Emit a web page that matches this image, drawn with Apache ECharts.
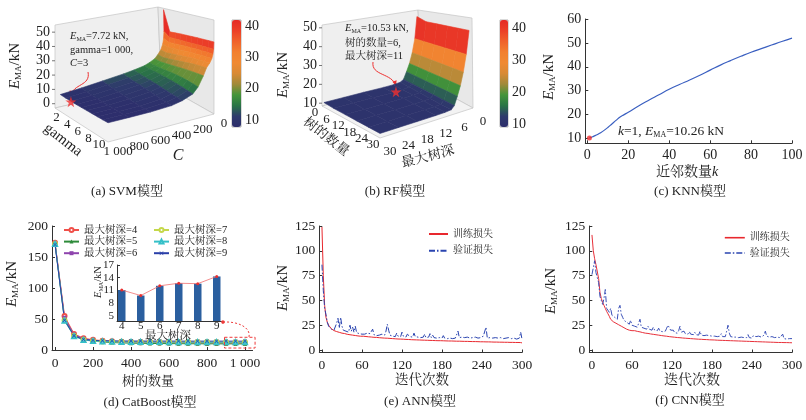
<!DOCTYPE html>
<html><head><meta charset="utf-8">
<script src="https://cdn.jsdelivr.net/npm/echarts@6/dist/echarts.min.js"></script>
<style>html,body{margin:0;padding:0;background:#fff}#c{width:806px;height:420px}</style>
</head><body><div id="c"></div>
<script>
// ================= DATA =================
// (a) SVM surface: rows = gamma, columns = C
const svmGamma = [1,2,3,4,5,6,7,8,9,10];
const svmC = [1,4,10,20,40,70,100,150,200,300,400,600,800,1000];
const svmE = [
  [54,38,33,29,25,22,19.5,17.5,16,14.5,13.3,11.5,9.8,8.5],
  [39,35,31.5,28,24.5,21.5,19,17,15.4,13.7,12.4,10.8,9.2,8.2],
  [39.5,35.3,32,28.7,25.3,22.2,19.5,17,15.2,13.2,11.8,10.2,8.8,8.0],
  [40,35.6,32.5,29.3,26,23,20,17.2,15,12.8,11.3,9.7,8.5,7.9],
  [40.3,35.9,33,29.9,26.7,23.8,20.5,17.3,14.8,12.3,10.8,9.2,8.2,7.85],
  [40.6,36.2,33.3,30.4,27.4,24.5,21,17.4,14.5,11.8,10.3,8.8,8.0,7.8],
  [40.9,36.5,33.6,30.8,28,25.2,21.4,17.3,14.1,11.3,9.8,8.4,7.9,7.78],
  [41.1,36.7,33.8,31.1,28.4,25.8,21.7,17,13.6,10.8,9.3,8.1,7.85,7.75],
  [41.3,36.9,34,31.3,28.7,26.2,21.9,16.5,13,10.4,8.9,7.95,7.8,7.73],
  [41.5,37,34,31.5,29,26.5,22,16,12.5,10,8.6,7.9,7.75,7.72]
];
const svmGammaTicks = [2,4,6,8,10];
const svmCTicks = [1000,800,600,400,200,0];
const svmZTicks = [0,10,20,30,40,50];
const svmBarTicks = [10,20,30,40];
const svmBest = [3, 1000, 7.72];

// (b) RF surface: rows = number of trees, columns = max depth
const rfTrees = [1,6,12,18,24,30];
const rfDepth = [1,2,3,4,5,6,7,9,12,18,24,30];
const rfE = [
  [48,35,27,21,16.5,12.5,11.3,10.9,10.8,10.9,10.9,10.9],
  [46,35,27,21,16.5,12.5,11.2,10.7,10.53,10.6,10.6,10.6],
  [46,35,27,21,16.5,12.5,11.1,10.7,10.6,10.6,10.6,10.6],
  [46,35,27,21,16.5,12.5,11.1,10.7,10.6,10.6,10.6,10.6],
  [46,35,27,21,16.5,12.5,11.0,10.7,10.6,10.6,10.6,10.6],
  [46,35,27,21,16.5,12.5,11.0,10.7,10.6,10.6,10.6,10.6]
];
const rfTreeTicks = [0,6,12,18,24,30];
const rfDepthTicks = [30,24,18,12,6,0];
const rfZTicks = [10,20,30,40,50];
const rfBarTicks = [10,20,30,40];
const rfBest = [6, 11, 10.53];

// (c) KNN
const knnK = [1,2,3,4,5,6,8,10,12,14,16,18,20,25,30,35,40,45,50,55,60,65,70,75,80,85,90,95,100];
const knnE = [10.26,10.5,10.9,11.3,11.7,12.2,13.3,14.6,16.1,17.6,19.0,20.0,21.0,23.6,26.0,28.3,30.6,32.6,34.5,36.5,38.6,40.7,42.6,44.4,46.1,47.6,49.1,50.6,52.0];
const knnXTicks = [0,20,40,60,80,100];
const knnYTicks = [10,20,30,40,50,60];

// (d) CatBoost
const cbTrees = [0,50,100,150,200,250,300,350,400,450,500,550,600,650,700,750,800,850,900,950,1000];
const cbD4 = [173,55,26,19,16.5,15,14,13.5,13,12.7,12.4,12.2,12,11.8,11.6,11.5,11.4,11.3,11.2,11.15,11.1];
const cbD5 = [172,50,24,17,14.5,13,12,11.5,11,10.8,10.6,10.4,10.3,10.2,10.1,10.0,10.0,9.9,9.9,9.85,9.8];
const cbD6 = [172,52,25,18,15.5,14.5,13.8,13.3,13,12.8,12.6,12.5,12.4,12.3,12.3,12.2,12.2,12.15,12.1,12.1,12.1];
const cbD7 = [171,48,23,16.5,14.5,13.8,13.4,13.2,13.1,13,12.95,12.9,12.85,12.8,12.8,12.8,12.75,12.75,12.7,12.7,12.7];
const cbD8 = [171,47,22,16,14.5,13.8,13.4,13.1,13,12.9,12.8,12.75,12.7,12.7,12.65,12.65,12.6,12.6,12.6,12.6,12.6];
const cbD9 = [170,48,23,17,15.5,15,14.8,14.6,14.5,14.5,14.4,14.4,14.4,14.35,14.3,14.3,14.3,14.3,14.3,14.3,14.3];
const cbXTicks = [0,200,400,600,800,1000];
const insetDepth = [4,5,6,7,8,9];
const insetE = [11.1,9.8,12.1,12.7,12.6,14.3];
const insetYTicks = [5,8,11,14,17];

// (e)(f) training curves, one value every 2 epochs (0..300)
const EPOCH_STEP = 2;
const annTrain = [124,75,45,33,28,25,23,21.5,20.5,19.6,19,18.6,18.2,17.8,17.3,17,17.4,16.6,16.3,15.8,16.1,15.4,15.7,15,15.3,14.6,14.9,14.2,14.6,13.9,13.6,
 13.9,13.2,13.6,13,13.3,12.7,13.1,12.5,12.8,12.3,12.7,12.1,12.4,11.9,12.2,11.7,12,11.5,11.9,11.3,
 11.7,11.1,11.5,10.9,11.3,10.8,11.1,10.6,11,10.5,10.9,10.3,10.7,10.2,10.6,10.1,10.4,9.9,10.3,9.8,
 10.2,9.7,10.1,9.6,10,9.5,9.9,9.4,9.8,9.3,9.7,9.2,9.6,9.2,9.5,9.1,9.4,9,9.4,8.9,
 9.3,8.8,9.2,8.8,9.1,8.7,9.1,8.6,9,8.6,8.9,8.5,8.9,8.4,8.8,8.4,8.7,8.3,8.7,8.2,
 8.6,8.2,8.5,8.1,8.5,8,8.4,8,8.3,7.9,8.3,7.9,8.2,7.8,8.2,7.7,8.1,7.7,8,7.6,
 8,7.6,7.9,7.5,7.9,7.5,7.8,7.4,7.8,7.4,7.7,7.3,7.7,7.3,7.6,7.2,7.6,7.2,7.5,7.2];
const annVal = [86,60,42,36,28,24,22,21,23,20,21,27,32,22,33,24,20,22,19,21,18,25,19,23,18,24,17.5,19,16.5,18,16,
 17.5,16,15.5,17,15.5,16.5,15,21,15.5,16,14.5,16,15,14.5,16,14,15,19,26,20,
 15,16.5,14,15,13.5,17,14,15.5,13.5,18,14,15,13,16,14,13.5,15.5,13,17,13.5,
 14.5,13,15,12.5,14,13,16,12.5,14,13,16.5,12.5,15,12.5,13.5,12,14,12.5,13,12,
 14.5,12,13,11.5,13.5,12,12.5,11.5,13,12,14,19,12.5,11.5,13,11.5,12.5,11,13,11.5,
 12,11,12.5,11,13,11,12,10.5,12.5,11,14,16,23,12,11,12.5,10.5,12,11,12.5,
 10.5,12,11,12.5,10.5,11.5,10.5,12,11,12.5,10.5,11.5,10.5,12,10.5,11,10.5,12,18,11];
const cnnTrain = [116,100,92,86,84,72,58,52,48,45,42,39,36.5,34,31,29.5,28.5,27.5,27,26,25.5,24.5,24,23,22.5,22,21,21.5,20,20.5,19.5,
 19,19.5,18.5,18.8,17.8,18.3,17.3,17.6,16.8,17,16.3,16.7,15.8,16.2,15.5,15.8,15,15.4,14.6,15,
 14.3,14.6,13.9,14.2,13.5,13.9,13.2,13.5,12.8,13.2,12.5,12.9,12.2,12.6,12,12.4,11.8,12.1,11.5,11.9,
 11.3,11.7,11.1,11.5,10.9,11.3,10.7,11.1,10.6,10.9,10.4,10.8,10.2,10.6,10.1,10.5,10,10.3,9.8,10.2,
 9.7,10.1,9.6,9.9,9.4,9.8,9.3,9.7,9.2,9.6,9.1,9.5,9,9.4,8.9,9.3,8.8,9.2,8.7,9.1,
 8.6,9,8.5,8.9,8.4,8.8,8.3,8.7,8.2,8.6,8.1,8.5,8,8.4,7.9,8.3,7.8,8.2,7.7,8.1,
 7.6,8,7.5,7.9,7.4,7.8,7.4,7.7,7.3,7.6,7.2,7.6,7.2,7.5,7.1,7.5,7.1,7.4,7,7.3];
const cnnVal = [76,74,90,78,80,68,54,50,46,52,61,42,40,38,42,35,37,33,34,31,42,45,36,33,30,31,28,29,26,30,25,
 27,24,26,23,25,31,23,25,22,23.5,21,24,21,22.5,20,23,20,21.5,19.5,22,
 19,21,18.5,20,19,22,25,26,20,18,20,17.5,19,17,19.5,24,18,17,19,16.5,
 18,16,18.5,16,17.5,15.5,18,15.5,17,15,19,15,16.5,14.5,16,15,17,14.5,16,14,
 15.5,14,16,13.5,15,14,16.5,13.5,15,13.5,19,25,17,13.5,15,13,14.5,13,15,12.5,
 14,13,15,12.5,14,12.5,15.5,12.5,14,12,14.5,12.5,13.5,12,14,12,13,12.5,15,19,
 14,12,13,11.5,13.5,11.5,12.5,11.5,13,11.5,12.5,11.5,16,11.5,12.5,11,12,11.5,13,11.5];
const epochTicks = [0,60,120,180,240,300];
const lossYTicks = [0,25,50,75,100,125];

// ================= STYLE / LAYOUT =================
const SERIF = '"Liberation Serif","Times New Roman",serif';
const MIX = '"Liberation Serif","Noto Serif CJK SC","Noto Sans CJK SC",serif';
const INK = '#222';
const CMAP = ['#2d2e6c','#2e3a6c','#2a7446','#44943a','#a08a3a','#d88a36','#f08a33','#f2802f','#f0622b','#ec4028','#e52a26'];

// 3D boxes: screen corners of floor (L,F,R,B) and top (Lt,Ft,Rt,Bt)
const svmBox = {L:[55,108],F:[108,142],R:[214,114],B:[161,84],Lt:[55,25],Ft:[108,38],Rt:[214,20],Bt:[158,7],u:[0,10],v:[0,1000],w:[-3,55]};
const rfBox  = {L:[322,106],F:[380,138],R:[473,108],B:[422,80],Lt:[322,25],Ft:[380,45],Rt:[472,18],Bt:[418,10],u:[0,30],v:[0,30],w:[8.5,51.5]};

function lerp(a,b,t){return [a[0]+(b[0]-a[0])*t, a[1]+(b[1]-a[1])*t];}
function makeProj(b){
  return function(uv,vv,wv){
    const u=(uv-b.u[0])/(b.u[1]-b.u[0]), v=(vv-b.v[0])/(b.v[1]-b.v[0]), w=(wv-b.w[0])/(b.w[1]-b.w[0]);
    const f=lerp(lerp(b.B,b.L,v),lerp(b.R,b.F,v),u);
    const t=lerp(lerp(b.Bt,b.Lt,v),lerp(b.Rt,b.Ft,v),u);
    return lerp(f,t,w);
  };
}
const svmProj = makeProj(svmBox), rfProj = makeProj(rfBox);

function surfaceCells(box, uArr, vArr, E){
  const out=[];
  for(let i=0;i<uArr.length-1;i++) for(let j=0;j<vArr.length-1;j++){
    const avg=(E[i][j]+E[i+1][j]+E[i+1][j+1]+E[i][j+1])/4;
    const un=((uArr[i]+uArr[i+1])/2-box.u[0])/(box.u[1]-box.u[0]);
    const vn=((vArr[j]+vArr[j+1])/2-box.v[0])/(box.v[1]-box.v[0]);
    out.push([i,j,avg,un+vn]);
  }
  out.sort((a,b)=>a[3]-b[3]);
  return out;
}
function surfaceRender(proj,uArr,vArr,E){
  return function(params,api){
    const i=api.value(0), j=api.value(1);
    const pts=[[i,j],[i+1,j],[i+1,j+1],[i,j+1]].map(p=>api.coord(proj(uArr[p[0]],vArr[p[1]],E[p[0]][p[1]])));
    const col=api.visual('color');
    return {type:'polygon', z2:params.dataIndex, shape:{points:pts}, style:{fill:col, stroke:col, lineWidth:0.6}};
  };
}
function arrowHead(end, from, color, size){
  const dx=end[0]-from[0], dy=end[1]-from[1], L=Math.hypot(dx,dy)||1, ux=dx/L, uy=dy/L;
  const bx=end[0]-ux*size, by=end[1]-uy*size;
  return {type:'polygon', shape:{points:[end,[bx-uy*size*0.45,by+ux*size*0.45],[bx+uy*size*0.45,by-ux*size*0.45]]}, style:{fill:color}};
}
function boxRender(box, proj, opt){
  return function(params, api){
    const P=(u,v,w)=>api.coord(proj(u,v,w));
    const [u0,u1]=box.u,[v0,v1]=box.v,[w0,w1]=box.w;
    const ch=[];
    const edge={stroke:'#c4c4c4', lineWidth:0.7};
    ch.push({type:'polygon',shape:{points:[P(u0,v1,w0),P(u0,v0,w0),P(u0,v0,w1),P(u0,v1,w1)]},style:Object.assign({fill:'#efefef'},edge)});
    ch.push({type:'polygon',shape:{points:[P(u0,v0,w0),P(u1,v0,w0),P(u1,v0,w1),P(u0,v0,w1)]},style:Object.assign({fill:'#e8e8e8'},edge)});
    ch.push({type:'polygon',shape:{points:[P(u0,v1,w0),P(u1,v1,w0),P(u1,v0,w0),P(u0,v0,w0)]},style:Object.assign({fill:'#f3f3f3'},edge)});
    const tf={fontFamily:SERIF, fill:INK};
    opt.uTicks.forEach(t=>{const p=P(t,v1,w0); ch.push({type:'text',x:p[0]+opt.uOff[0],y:p[1]+opt.uOff[1],style:Object.assign({text:String(t),fontSize:13,align:'center',verticalAlign:'middle'},tf)});});
    opt.vTicks.forEach(t=>{const p=P(u1,t,w0); ch.push({type:'text',x:p[0]+opt.vOff[0],y:p[1]+opt.vOff[1],style:Object.assign({text:opt.vFmt?opt.vFmt(t):String(t),fontSize:13,align:'center',verticalAlign:'middle'},tf)});});
    opt.zTicks.forEach(t=>{const p=P(u0,v1,t);
      ch.push({type:'line',shape:{x1:p[0],y1:p[1],x2:p[0]-3,y2:p[1]},style:{stroke:'#555',lineWidth:0.8}});
      ch.push({type:'text',x:p[0]-5,y:p[1],style:Object.assign({text:String(t),fontSize:14,align:'right',verticalAlign:'middle'},tf)});});
    const s=P(opt.best[0],opt.best[1],opt.best[2]);
    const end=[s[0],s[1]-6], st=opt.arrowStart;
    const c1=[st[0]+opt.arrowC[0][0],st[1]+opt.arrowC[0][1]], c2=[end[0]+opt.arrowC[1][0],end[1]+opt.arrowC[1][1]];
    ch.push({type:'bezierCurve',shape:{x1:st[0],y1:st[1],cpx1:c1[0],cpy1:c1[1],cpx2:c2[0],cpy2:c2[1],x2:end[0],y2:end[1]},style:{stroke:'#ee3030',lineWidth:1,fill:null}});
    ch.push(arrowHead(end,c2,'#ee3030',5));
    return {type:'group',children:ch};
  };
}

const STAR='path://M50,0 L61,35 L98,35 L68,57 L79,91 L50,70 L21,91 L32,57 L2,35 L39,35 Z';
const XSYM='path://M1,0 L5,4 L9,0 L10,1 L6,5 L10,9 L9,10 L5,6 L1,10 L0,9 L4,5 L0,1 Z';

function vAxisCommon(grid, min, max, ticks, fs, fmt, extra){
  return Object.assign({gridIndex:grid, type:'value', min:min, max:max,
    axisLine:{show:true,onZero:false,lineStyle:{color:'#333',width:1}},
    axisTick:{show:true,inside:true,length:3,lineStyle:{color:'#333'},customValues:ticks},
    axisLabel:{customValues:ticks,fontFamily:SERIF,fontSize:fs,color:INK,margin:4,formatter:fmt||undefined},
    splitLine:{show:false}}, extra||{});
}
const fmt1000 = v => v===1000 ? '1 000' : String(v);

const richE = (fs, col) => ({
  i:{fontFamily:SERIF,fontStyle:'italic',fontSize:fs,lineHeight:fs+2,fill:col||INK},
  s:{fontFamily:SERIF,fontSize:Math.round(fs*0.6),lineHeight:Math.round(fs*0.6),verticalAlign:'bottom',fill:col||INK},
  n:{fontFamily:MIX,fontSize:fs,lineHeight:fs+2,fill:col||INK}
});
function T(x,y,text,fs,o){ o=o||{};
  return {type:'text', x:x, y:y, rotation:o.rot||0, z:100,
    style:{text:text, fontFamily:o.ff||MIX, fontSize:fs, fontStyle:o.italic?'italic':'normal', fill:INK,
      align:o.align||'center', verticalAlign:'middle', rich:o.rich}};
}
function yTitle(x,y,fs){ return T(x,y,'{i|E}{s|MA}{n|/kN}',fs,{rot:Math.PI/2,rich:richE(fs)}); }

// ================= SERIES =================
const series = [];
series.push({type:'custom', xAxisIndex:0, yAxisIndex:0, z:1, silent:true, data:[[0,0]],
  renderItem: boxRender(svmBox, svmProj, {uTicks:svmGammaTicks, uOff:[-9,3], vTicks:svmCTicks, vOff:[10,10], vFmt:fmt1000, zTicks:svmZTicks, best:svmBest, arrowStart:[88,72], arrowC:[[3,14],[2,-12]]})});
const svmSurfIdx = series.length;
series.push({type:'custom', xAxisIndex:0, yAxisIndex:0, z:2, silent:true, data:surfaceCells(svmBox,svmGamma,svmC,svmE), renderItem:surfaceRender(svmProj,svmGamma,svmC,svmE)});
series.push({type:'scatter', xAxisIndex:0, yAxisIndex:0, z:5, silent:true, symbol:STAR, symbolSize:11, itemStyle:{color:'#f03030'}, data:[svmProj(svmBest[0],svmBest[1],svmBest[2])]});
series.push({type:'custom', xAxisIndex:0, yAxisIndex:0, z:1, silent:true, data:[[0,0]],
  renderItem: boxRender(rfBox, rfProj, {uTicks:rfTreeTicks, uOff:[-7,7], vTicks:rfDepthTicks, vOff:[10,14], zTicks:rfZTicks, best:rfBest, arrowStart:[373,62], arrowC:[[-2,14],[-4,-13]]})});
const rfSurfIdx = series.length;
series.push({type:'custom', xAxisIndex:0, yAxisIndex:0, z:2, silent:true, data:surfaceCells(rfBox,rfTrees,rfDepth,rfE), renderItem:surfaceRender(rfProj,rfTrees,rfDepth,rfE)});
series.push({type:'scatter', xAxisIndex:0, yAxisIndex:0, z:5, silent:true, symbol:STAR, symbolSize:11, itemStyle:{color:'#f03030'}, data:[rfProj(rfBest[0],rfBest[1],rfBest[2])]});
// (c)
series.push({type:'line', xAxisIndex:3, yAxisIndex:3, data:knnK.map((k,i)=>[k,knnE[i]]), symbol:'none', smooth:true, lineStyle:{color:'#3a5fc0',width:1.2}});
series.push({type:'scatter', xAxisIndex:3, yAxisIndex:3, data:[[knnK[0],knnE[0]]], symbolSize:5, itemStyle:{color:'#f03030'}, z:5});
// (d)
const cbSets = [
  ['最大树深=4',cbD4,'#f0504a','emptyCircle'],
  ['最大树深=5',cbD5,'#2e8b3a','triangle'],
  ['最大树深=6',cbD6,'#8e44ad','rect'],
  ['最大树深=7',cbD7,'#c5d84a','emptyCircle'],
  ['最大树深=8',cbD8,'#35c0c8','emptyTriangle'],
  ['最大树深=9',cbD9,'#2a3fa8',XSYM]
];
cbSets.forEach(s=>series.push({type:'line', name:s[0], xAxisIndex:4, yAxisIndex:4, data:cbTrees.map((t,i)=>[t,s[1][i]]),
  symbol:s[3], symbolSize:4, showAllSymbol:true, lineStyle:{color:s[2],width:1}, itemStyle:{color:s[2]}}));
series.push({type:'custom', xAxisIndex:4, yAxisIndex:4, silent:true, clip:false, z:6, data:[[0,0]],
  renderItem:function(params,api){
    const a=api.coord([892,20.5]), b=api.coord([1053,3.2]);
    const st=api.coord([884,45]), en=api.coord([1000,21]);
    return {type:'group',children:[
      {type:'rect',shape:{x:a[0],y:a[1],width:b[0]-a[0],height:b[1]-a[1]},style:{fill:null,stroke:'#ee3a3a',lineWidth:1,lineDash:[3,2]}},
      {type:'bezierCurve',shape:{x1:st[0],y1:st[1],cpx1:st[0]+14,cpy1:st[1]-1,cpx2:en[0]+6,cpy2:en[1]-10,x2:en[0]+4,y2:en[1]},style:{stroke:'#ee3a3a',lineWidth:1,lineDash:[2,2],fill:null}},
      {type:'circle',shape:{cx:st[0],cy:st[1],r:1.8},style:{fill:'#ee3a3a'}}
    ]};
  }});
series.push({type:'bar', xAxisIndex:5, yAxisIndex:5, data:insetDepth.map((d,i)=>[d,insetE[i]]), barWidth:7.5, itemStyle:{color:'#2b5f9f'}, z:3});
series.push({type:'line', xAxisIndex:5, yAxisIndex:5, data:insetDepth.map((d,i)=>[d,insetE[i]]), symbol:'circle', symbolSize:3, lineStyle:{color:'#f07070',width:0.8}, itemStyle:{color:'#e83030'}, z:4});
// (e)(f)
function lossSeries(name, arr, ax, color, dash){
  return {type:'line', name:name, xAxisIndex:ax, yAxisIndex:ax, data:arr.map((v,i)=>[i*EPOCH_STEP,v]), symbol:'none',
    lineStyle:{color:color,width:1,type:dash?[6,2,1.5,2]:'solid'}, itemStyle:{color:color}};
}
series.push(lossSeries('训练损失',annTrain,6,'#e8282e',false));
series.push(lossSeries('验证损失',annVal,6,'#2a44b0',true));
series.push(lossSeries('训练损失',cnnTrain,7,'#e8303a',false));
series.push(lossSeries('验证损失',cnnVal,7,'#3a50b8',true));

// ================= OPTION =================
const option = {
  animation:false, backgroundColor:'#fff',
  grid:[
    {left:0,top:0,width:806,height:420,outerBoundsMode:'none'},
    {left:232,top:20,width:9,height:107,show:true,borderColor:'#666',borderWidth:0.5,backgroundColor:'transparent',outerBoundsMode:'none'},
    {left:500,top:20,width:8,height:107,show:true,borderColor:'#666',borderWidth:0.5,backgroundColor:'transparent',outerBoundsMode:'none'},
    {left:585.3,top:19,width:206.7,height:124.3,outerBoundsMode:'none'},
    {left:52,top:226,width:200.6,height:124,outerBoundsMode:'none'},
    {left:117,top:265,width:104.5,height:56,outerBoundsMode:'none'},
    {left:319.3,top:226,width:202.7,height:126.5,outerBoundsMode:'none'},
    {left:589.3,top:226,width:202.7,height:126.5,outerBoundsMode:'none'}
  ],
  xAxis:[
    {gridIndex:0,type:'value',min:0,max:806,show:false},
    {gridIndex:1,type:'value',min:0,max:1,show:false},
    {gridIndex:2,type:'value',min:0,max:1,show:false},
    vAxisCommon(3,-1,100,knnXTicks,14,null,{axisLabel:{customValues:knnXTicks,fontFamily:SERIF,fontSize:14,color:INK,margin:5}}),
    vAxisCommon(4,-16,1040,cbXTicks,13.5,fmt1000,{axisLabel:{customValues:cbXTicks,fontFamily:SERIF,fontSize:13.5,color:INK,margin:6,formatter:fmt1000}}),
    vAxisCommon(5,3.75,9.25,insetDepth,11,null,{axisLabel:{customValues:insetDepth,fontFamily:SERIF,fontSize:11,color:INK,margin:0}}),
    vAxisCommon(6,-4,300,epochTicks,13.5,null,{axisLabel:{customValues:epochTicks,fontFamily:SERIF,fontSize:13.5,color:INK,margin:6}}),
    vAxisCommon(7,-4,300,epochTicks,13.5,null,{axisLabel:{customValues:epochTicks,fontFamily:SERIF,fontSize:13.5,color:INK,margin:6}})
  ],
  yAxis:[
    {gridIndex:0,type:'value',min:0,max:420,inverse:true,show:false},
    {gridIndex:1,type:'value',min:7.72,max:41.9,position:'right',axisLine:{show:false},splitLine:{show:false},
      axisTick:{show:true,length:3,lineStyle:{color:'#555'},customValues:svmBarTicks},
      axisLabel:{customValues:svmBarTicks,fontFamily:SERIF,fontSize:14,color:INK,margin:4}},
    {gridIndex:2,type:'value',min:9.1,max:42.5,position:'right',axisLine:{show:false},splitLine:{show:false},
      axisTick:{show:true,length:3,lineStyle:{color:'#555'},customValues:rfBarTicks},
      axisLabel:{customValues:rfBarTicks,fontFamily:SERIF,fontSize:14,color:INK,margin:4}},
    vAxisCommon(3,8,60,knnYTicks,14),
    vAxisCommon(4,0,200,[0,50,100,150,200],13.5),
    vAxisCommon(5,3.8,17,insetYTicks,11,null,{axisLabel:{customValues:insetYTicks,fontFamily:SERIF,fontSize:11,color:INK,margin:3}}),
    vAxisCommon(6,-2.5,125,lossYTicks,13.5),
    vAxisCommon(7,-2.5,125,lossYTicks,13.5)
  ],
  visualMap:[
    {type:'continuous',seriesIndex:svmSurfIdx,dimension:2,min:7.72,max:41.9,left:232,top:20,itemWidth:9,itemHeight:107,padding:0,
      calculable:false,hoverLink:false,orient:'vertical',inRange:{color:CMAP},text:null,textStyle:{color:'transparent'}},
    {type:'continuous',seriesIndex:rfSurfIdx,dimension:2,min:9.1,max:42.5,left:500,top:20,itemWidth:8,itemHeight:107,padding:0,
      calculable:false,hoverLink:false,orient:'vertical',inRange:{color:CMAP},text:null,textStyle:{color:'transparent'}}
  ],
  legend:[
    {data:['最大树深=4','最大树深=5','最大树深=6'],orient:'vertical',left:63,top:224.5,padding:0,itemGap:0.6,itemWidth:15,itemHeight:5,
      textStyle:{fontFamily:MIX,fontSize:10.5,color:INK,lineHeight:11},selectedMode:false},
    {data:['最大树深=7','最大树深=8','最大树深=9'],orient:'vertical',left:153,top:224.5,padding:0,itemGap:0.6,itemWidth:15,itemHeight:5,
      textStyle:{fontFamily:MIX,fontSize:10.5,color:INK,lineHeight:11},selectedMode:false},
    {data:['训练损失','验证损失'],orient:'vertical',left:428,top:228,padding:0,itemGap:4.7,itemWidth:19,itemHeight:12,
      itemStyle:{opacity:0},textStyle:{fontFamily:MIX,fontSize:10,color:INK,lineHeight:12},selectedMode:false},
    {data:['训练损失','验证损失'],orient:'vertical',left:724,top:231.7,padding:0,itemGap:3.3,itemWidth:20,itemHeight:12,
      itemStyle:{opacity:0},lineStyle:{width:1.6},textStyle:{fontFamily:MIX,fontSize:10,color:INK,lineHeight:12},selectedMode:false}
  ],
  series:series,
  graphic:{elements:[
    yTitle(15,66,15),
    T(63,140,'gamma',15,{ff:SERIF,rot:-0.66}),
    T(178,156,'C',16,{ff:SERIF,italic:true}),
    T(70,36,'{i|E}{s|MA}{n|=7.72 kN,}',10.5,{align:'left',rich:richE(10.5)}),
    T(70,50,'gamma=1 000,',10.5,{ff:SERIF,align:'left'}),
    T(70,63,'{i|C}{n|=3}',10.5,{align:'left',rich:richE(10.5)}),
    T(127,192,'(a) SVM模型',13),
    yTitle(283,75,15),
    T(326,137,'树的数量',13.5,{rot:-0.66}),
    T(428,157,'最大树深',13.5,{rot:0.26}),
    T(345,28,'{i|E}{s|MA}{n|=10.53 kN,}',10.5,{align:'left',rich:richE(10.5)}),
    T(345,43,'树的数量=6,',10.5,{align:'left'}),
    T(345,56,'最大树深=11',10.5,{align:'left'}),
    T(395,192,'(b) RF模型',13),
    yTitle(549,77,15),
    T(618,131,'{i|k}{n|=1, }{i|E}{s|MA}{n|=10.26 kN}',13.5,{align:'left',rich:richE(13.5)}),
    T(687,172,'{n|近邻数量}{i|k}',14,{rich:richE(14)}),
    T(690,192,'(c) KNN模型',13),
    yTitle(12,284,15),
    yTitle(98,282,10.5),
    T(168,336,'最大树深',11.5),
    T(148,382,'树的数量',13),
    T(150,403,'(d) CatBoost模型',13),
    yTitle(283,288,15),
    T(422,380,'迭代次数',13.5),
    T(420,402,'(e) ANN模型',13),
    yTitle(551,291,15),
    T(692,380,'迭代次数',14),
    T(690,401,'(f) CNN模型',13)
  ]}
};
const chart = echarts.init(document.getElementById('c'), null, {renderer:'canvas'});
chart.setOption(option);
</script></body></html>
